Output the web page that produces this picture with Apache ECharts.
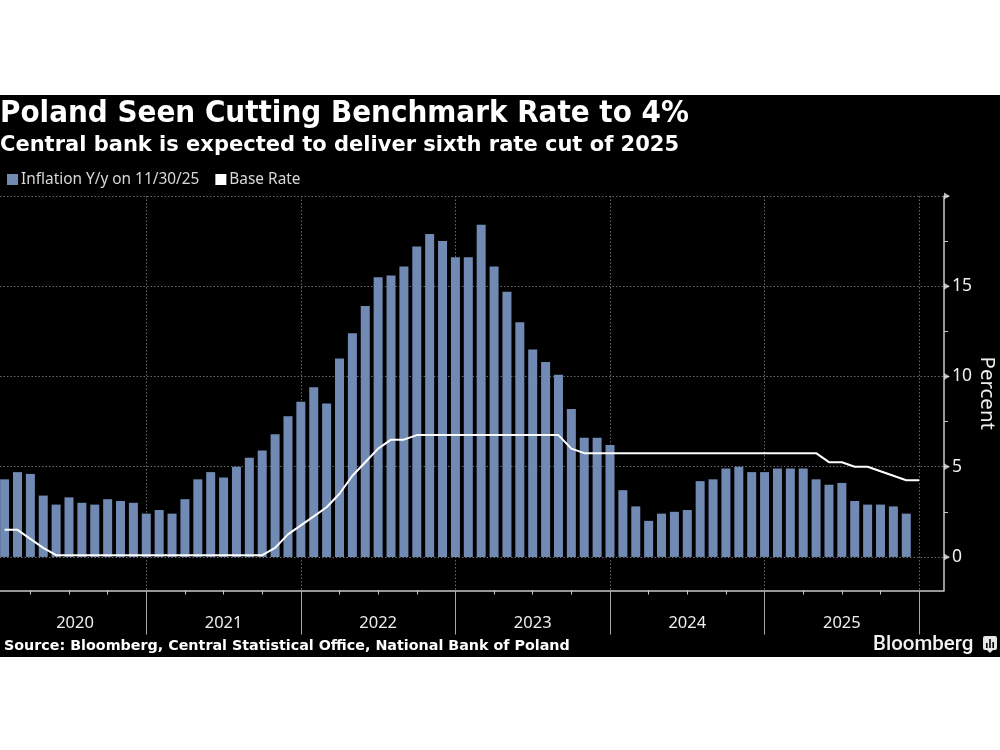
<!DOCTYPE html>
<html><head><meta charset="utf-8">
<style>html,body{margin:0;padding:0;background:#fff}#c{width:1000px;height:750px}</style>
<script src="https://cdn.jsdelivr.net/npm/echarts@6/dist/echarts.min.js"></script>
</head><body><div id="c"></div>
<script>
const titleText = 'Poland Seen Cutting Benchmark Rate to 4%';
const subtitleText = 'Central bank is expected to deliver sixth rate cut of 2025';
const sourceText = 'Source: Bloomberg, Central Statistical Office, National Bank of Poland';
const inflationName = 'Inflation Y/y on 11/30/25';
const rateName = 'Base Rate';
// monthly, index 0 = Jan 2020
const inflation = [4.3,4.7,4.6,3.4,2.9,3.3,3.0,2.9,3.2,3.1,3.0,2.4,
  2.6,2.4,3.2,4.3,4.7,4.4,5.0,5.5,5.9,6.8,7.8,8.6,
  9.4,8.5,11.0,12.4,13.9,15.5,15.6,16.1,17.2,17.9,17.5,16.6,
  16.6,18.4,16.1,14.7,13.0,11.5,10.8,10.1,8.2,6.6,6.6,6.2,
  3.7,2.8,2.0,2.4,2.5,2.6,4.2,4.3,4.9,5.0,4.7,4.7,
  4.9,4.9,4.9,4.3,4.0,4.1,3.1,2.9,2.9,2.8,2.4];
const baseRate = [1.5,1.5,1.0,0.5,0.1,0.1,0.1,0.1,0.1,0.1,0.1,0.1,
  0.1,0.1,0.1,0.1,0.1,0.1,0.1,0.1,0.1,0.5,1.25,1.75,
  2.25,2.75,3.5,4.5,5.25,6.0,6.5,6.5,6.75,6.75,6.75,6.75,
  6.75,6.75,6.75,6.75,6.75,6.75,6.75,6.75,6.0,5.75,5.75,5.75,
  5.75,5.75,5.75,5.75,5.75,5.75,5.75,5.75,5.75,5.75,5.75,5.75,
  5.75,5.75,5.75,5.75,5.25,5.25,5.0,5.0,4.75,4.5,4.25,4.25];
const yearLabels = ['2020','2021','2022','2023','2024','2025'];
const yearLabelAt = [5.47,17,29,41,53,65];
const yearEnds = [11,23,35,47,59,71];
const quarterTicks = [2,5,8,14,17,20,26,29,32,38,41,44,50,53,56,62,65,68];
const yMajor = [0,5,10,15,20];
const yMinor = [2.5,7.5,12.5,17.5];
const yLabels = [0,5,10,15];
const xMin = -0.357, xMax = 72.93, yMin = -1.86, yMax = 20;

const uiFont = '"Noto Sans", sans-serif';
const headFont = '"DejaVu Sans", sans-serif';
const axisGrey = '#c8c8c8', gridGrey = '#6a6a6a', barBlue = '#708ab4';
const dotted = {color: gridGrey, type: [1.5, 2], width: 1};

const chart = echarts.init(document.getElementById('c'), null, {renderer: 'canvas'});
chart.setOption({
  animation: false,
  backgroundColor: '#fff',
  graphic: [
    {type: 'rect', z: -10, silent: true, shape: {x: 0, y: 95, width: 1000, height: 562}, style: {fill: '#000'}},
    {type: 'text', z: 10, x: 0, y: 99, scaleX: 0.945, style: {text: titleText, fill: '#fff', font: 'bold 29.5px "DejaVu Sans", sans-serif'}},
    {type: 'text', z: 10, left: 873, top: 634, style: {text: 'Bloomberg', fill: '#f2f2f2', font: '500 20.5px Roboto, sans-serif'}},
    {type: 'group', z: 10, left: 983, top: 636, children: [
      {type: 'rect', shape: {x: 0, y: 0, width: 14, height: 14, r: 2}, style: {fill: '#e6e6e6'}},
      {type: 'polygon', shape: {points: [[4, 14], [10, 14], [7, 17]]}, style: {fill: '#e6e6e6'}},
      {type: 'rect', shape: {x: 3, y: 7, width: 1.6, height: 5}, style: {fill: '#000'}},
      {type: 'rect', shape: {x: 6.2, y: 3, width: 1.6, height: 9}, style: {fill: '#000'}},
      {type: 'rect', shape: {x: 9.4, y: 6, width: 1.6, height: 6}, style: {fill: '#000'}}
    ]}
  ],
  title: [
    {text: subtitleText, left: 0, top: 135, padding: 0, textStyle: {color: '#fff', fontFamily: headFont, fontWeight: 'bold', fontSize: 21}},
    {text: sourceText, left: 4, top: 639, padding: 0, textStyle: {color: '#fff', fontFamily: headFont, fontWeight: 'bold', fontSize: 14.3}}
  ],
  legend: {
    left: 7, top: 172, padding: 0, itemWidth: 11, itemHeight: 11, itemGap: 16,
    selectedMode: false,
    textStyle: {color: '#d8d8d8', fontFamily: uiFont, fontSize: 15.4, padding: [0, 0, 0, -2]},
    data: [{name: inflationName, icon: 'rect'}, {name: rateName, icon: 'rect'}]
  },
  grid: {left: 0, top: 196, width: 944, height: 394.5, containLabel: false, outerBoundsMode: 'none'},
  xAxis: [
    {type: 'value', min: xMin, max: xMax, position: 'bottom', containShape: false,
     axisLine: {show: true, onZero: false, lineStyle: {color: axisGrey, width: 1.5}},
     axisTick: {show: true, customValues: quarterTicks, length: 4, inside: false, lineStyle: {color: axisGrey, width: 1}},
     axisLabel: {show: false}, splitLine: {show: false}},
    {type: 'value', min: xMin, max: xMax, position: 'bottom', containShape: false,
     axisLine: {show: false, onZero: false},
     axisTick: {show: true, customValues: yearEnds, length: 44, lineStyle: {color: '#a8a8a8', width: 1}},
     axisLabel: {show: true, customValues: yearLabelAt, margin: 24, color: '#eee', fontFamily: uiFont, fontSize: 16.5,
       formatter: (v) => yearLabels[yearLabelAt.indexOf(v)] || ''},
     splitLine: {show: true, lineStyle: dotted}}
  ],
  yAxis: [
    {type: 'value', min: yMin, max: yMax, position: 'right',
     name: 'Percent', nameLocation: 'middle', nameRotate: -90, nameGap: 32, nameMoveOverlap: false,
     nameTextStyle: {color: '#eee', fontFamily: uiFont, fontSize: 20.5},
     axisLine: {show: true, onZero: false, lineStyle: {color: axisGrey, width: 1.5}},
     axisTick: {show: true, customValues: yMajor, length: 5, lineStyle: {color: axisGrey, width: 1}},
     axisLabel: {show: true, customValues: yLabels, margin: 8, color: '#eee', fontFamily: uiFont, fontSize: 17.5},
     splitLine: {show: true, lineStyle: dotted}},
    {type: 'value', min: yMin, max: yMax, position: 'right',
     axisLine: {show: false, onZero: false},
     axisTick: {show: true, customValues: yMinor, length: 4, lineStyle: {color: axisGrey, width: 1}},
     axisLabel: {show: false}, splitLine: {show: false}}
  ],
  series: [
    {name: inflationName, type: 'bar', barWidth: 9, xAxisIndex: 0, yAxisIndex: 0, z: 2,
     itemStyle: {color: barBlue}, data: inflation.map((v, i) => [i, v])},
    {name: rateName, type: 'line', xAxisIndex: 0, yAxisIndex: 0, z: 3, symbol: 'none', showSymbol: false,
     itemStyle: {color: '#fff'}, lineStyle: {color: '#fff', width: 2}, data: baseRate.map((v, i) => [i, v])},
    {name: 'ticks', type: 'scatter', xAxisIndex: 0, yAxisIndex: 0, z: 4, clip: false, silent: true,
     symbol: 'triangle', symbolSize: [7, 6], symbolRotate: -90, symbolOffset: [3, 0],
     itemStyle: {color: '#e0e0e0'}, data: yMajor.map(v => [xMax, v])}
  ]
});
</script></body></html>
